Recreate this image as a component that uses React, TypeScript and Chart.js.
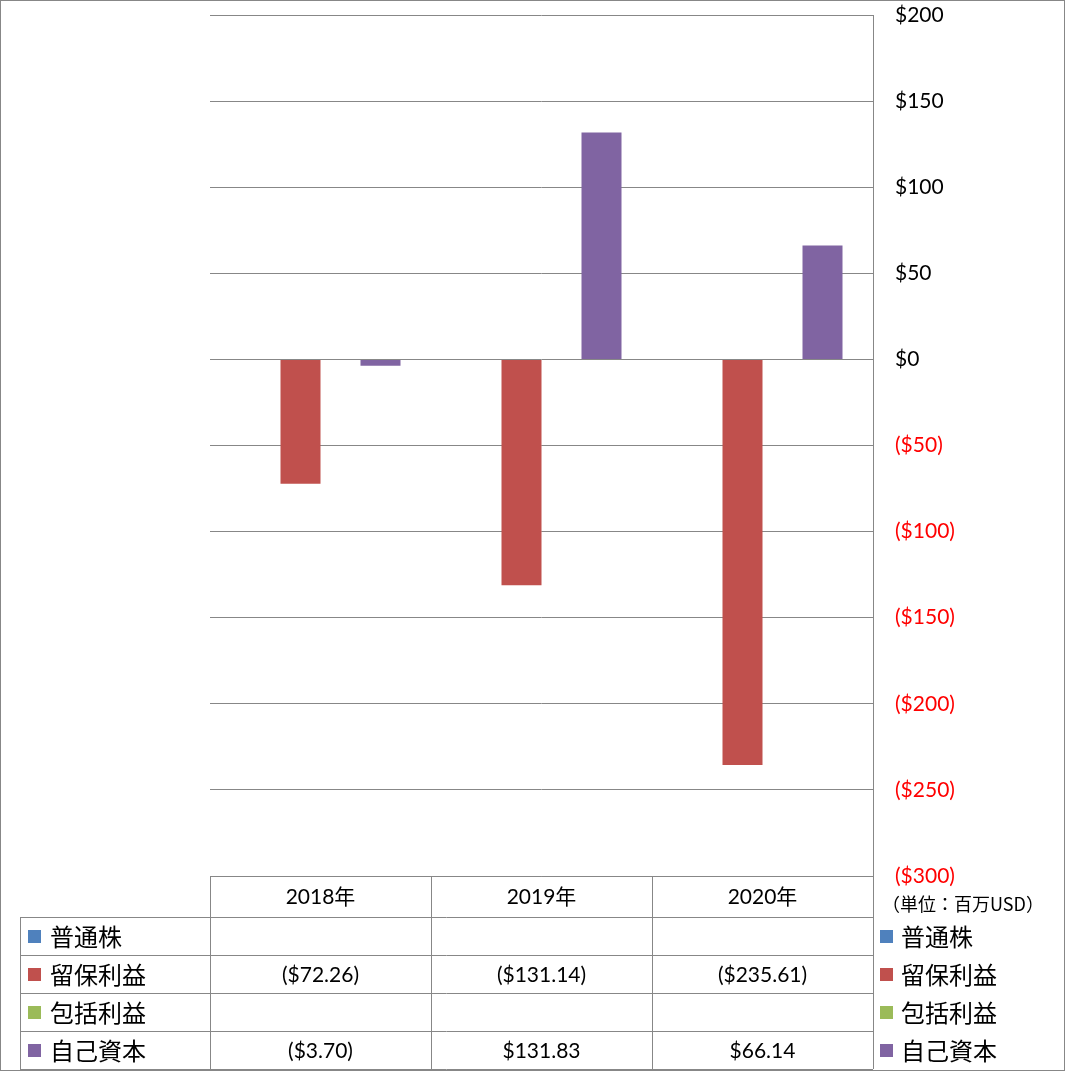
import React, { useEffect, useRef } from "react";
import { Chart, registerables } from "chart.js";

Chart.register(...registerables);

// ---- data ----
const categories = ["2018年", "2019年", "2020年"];
const seriesNames = ["普通株", "留保利益", "包括利益", "自己資本"];
const commonStock: (number | null)[] = [null, null, null];
const retainedEarnings: (number | null)[] = [-72.26, -131.14, -235.61];
const comprehensiveIncome: (number | null)[] = [null, null, null];
const equity: (number | null)[] = [-3.7, 131.83, 66.14];
const seriesColors = ["#4F81BD", "#C0504D", "#9BBB59", "#8064A2"];
const yMin = -300;
const yMax = 200;
const yStep = 50;
const unitLabel = "（単位：百万USD）";

// ---- styles ----
const W = 1066;
const H = 1071;
const LINE = "#878787";
const LATIN = "Lato, 'Noto Sans CJK JP', sans-serif";
const CJK = "'Noto Sans CJK JP', sans-serif";

const money = (v: number, d: number) => {
  const s = "$" + Math.abs(v).toFixed(d);
  return v < 0 ? `(${s})` : s;
};

const tablePlugin = {
  id: "dataTable",
  afterDraw(chart: any) {
    const ctx: CanvasRenderingContext2D = chart.ctx;
    const area = chart.chartArea;
    const xs = chart.scales.x;
    const labels: string[] = chart.data.labels;
    const n = labels.length;
    const colW = (area.right - area.left) / n;
    const top = Math.round(area.bottom);
    const headerBottom = top + 41;
    const rowH = 38;
    const datasets = chart.data.datasets;
    const rows = datasets.length;
    const bottom = headerBottom + rowH * rows;
    const legendLeft = 20;

    ctx.save();
    // outer frame
    ctx.strokeStyle = LINE;
    ctx.lineWidth = 1;
    ctx.strokeRect(0.5, 0.5, W - 2, H - 1);

    // table lines
    ctx.beginPath();
    ctx.moveTo(area.left, top + 0.5);
    ctx.lineTo(area.right, top + 0.5);
    for (let r = 0; r <= rows; r++) {
      const y = headerBottom + r * rowH + 0.5;
      ctx.moveTo(legendLeft, y);
      ctx.lineTo(area.right, y);
    }
    for (let i = 0; i <= n; i++) {
      const x = Math.round(area.left + colW * i) + 0.5;
      ctx.moveTo(x, top);
      ctx.lineTo(x, bottom);
    }
    ctx.moveTo(legendLeft + 0.5, headerBottom);
    ctx.lineTo(legendLeft + 0.5, bottom);
    ctx.stroke();

    // header
    ctx.fillStyle = "#000";
    ctx.textAlign = "center";
    ctx.textBaseline = "middle";
    ctx.font = `21px ${LATIN}`;
    labels.forEach((lab, i) => {
      ctx.fillText(lab, xs.getPixelForValue(i), (top + headerBottom) / 2 + 1);
    });

    // rows
    datasets.forEach((ds: any, r: number) => {
      const cy = headerBottom + r * rowH + rowH / 2 + 1;
      ds.data.forEach((v: number | null, i: number) => {
        if (v === null || v === undefined) return;
        ctx.font = `21px ${LATIN}`;
        ctx.textAlign = "center";
        ctx.fillStyle = "#000";
        ctx.fillText(money(v, 2), xs.getPixelForValue(i), cy);
      });
      // left legend key
      const sq = 13;
      ctx.fillStyle = ds.backgroundColor;
      ctx.fillRect(legendLeft + 8, cy - 7, sq, sq);
      ctx.fillStyle = "#000";
      ctx.textAlign = "left";
      ctx.font = `24px ${CJK}`;
      ctx.fillText(ds.label, legendLeft + 30, cy);
      // right legend
      const rx = area.right + 7;
      ctx.fillStyle = ds.backgroundColor;
      ctx.fillRect(rx, cy - 7, sq, sq);
      ctx.fillStyle = "#000";
      ctx.fillText(ds.label, rx + 21, cy);
    });

    // unit label
    ctx.font = `18px ${CJK}`;
    ctx.textAlign = "left";
    ctx.fillStyle = "#000";
    ctx.fillText(unitLabel, area.right + 9, top + 28);
    ctx.restore();
  },
};

export default function App() {
  const ref = useRef<HTMLCanvasElement | null>(null);

  useEffect(() => {
    if (!ref.current) return;
    const seriesData = [commonStock, retainedEarnings, comprehensiveIncome, equity];
    const chart = new Chart(ref.current, {
      type: "bar",
      data: {
        labels: categories,
        datasets: seriesNames.map((name, i) => ({
          label: name,
          data: seriesData[i] as any,
          backgroundColor: seriesColors[i],
          borderWidth: 0,
          categoryPercentage: 160 / 221,
          barPercentage: 1,
        })),
      },
      options: {
        animation: false,
        responsive: false,
        devicePixelRatio: 1,
        layout: { padding: { left: 210, top: 15, right: 0, bottom: H - 876 } },
        plugins: {
          legend: { display: false },
          tooltip: { enabled: false },
          title: { display: false },
        },
        scales: {
          x: { display: false },
          y: {
            position: "right",
            min: yMin,
            max: yMax,
            ticks: {
              stepSize: yStep,
              padding: 22,
              font: { family: LATIN, size: 21 },
              color: (c: any) => (c.tick && c.tick.value < 0 ? "#FF0000" : "#000000"),
              callback: (v: any) => money(Number(v), 0),
            },
            grid: { color: LINE, lineWidth: 1, drawTicks: false },
            border: { display: true, color: LINE, width: 1 },
            afterFit: (s: any) => {
              s.width = W - 873;
              s.paddingTop = 0;
              s.paddingBottom = 0;
            },
          },
        },
      },
      plugins: [tablePlugin],
    });
    return () => chart.destroy();
  }, []);

  return (
    <div style={{ position: "absolute", left: 0, top: 0, width: W, height: H, background: "#fff" }}>
      <canvas ref={ref} width={W} height={H} style={{ display: "block", width: W, height: H }} />
    </div>
  );
}
